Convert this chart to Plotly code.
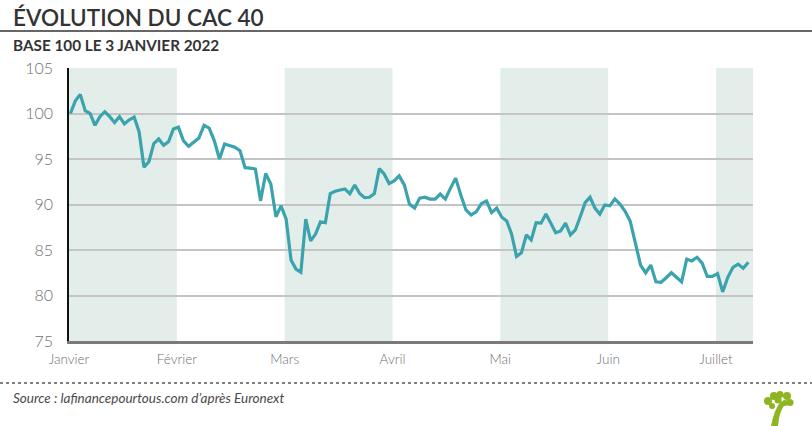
import plotly.graph_objects as go

# ---------------- data ----------------
month_labels = ["Janvier", "Février", "Mars", "Avril", "Mai", "Juin", "Juillet"]
y_ticks = [75, 80, 85, 90, 95, 100, 105]

jan_values = [100.0, 101.4, 102.1, 100.3, 100.0, 98.7, 99.65, 100.2, 99.65, 99.0, 99.65,
              98.85, 99.3, 99.6, 98.0, 94.1, 94.7, 96.7, 97.2, 96.5, 96.9, 98.3]
feb_values = [98.5, 97.0, 96.4, 96.9, 97.3, 98.7, 98.4, 97.0, 95.0, 96.65, 96.5,
              96.3, 95.9, 94.05, 94.0, 93.9, 90.4, 93.4, 92.25, 88.65, 89.85]
mar_values = [88.4, 83.9, 82.9, 82.55, 88.4, 86.0, 86.75, 88.1, 88.0, 91.2, 91.45,
              91.6, 91.7, 91.2, 92.15, 91.2, 90.75, 90.8, 91.2, 93.95, 93.35, 92.3]
apr_values = [92.6, 93.15, 92.15, 90.05, 89.6, 90.7, 90.8, 90.6, 90.6, 91.15, 90.6,
              91.8, 92.9, 91.05, 89.4, 88.85, 89.2, 90.1, 90.4, 89.1, 89.6]
may_values = [88.6, 88.2, 86.75, 84.3, 84.7, 86.65, 86.1, 88.0, 87.95, 88.95, 87.95,
              86.9, 87.1, 87.95, 86.65, 87.2, 88.65, 90.2, 90.8, 89.6, 88.95, 89.95]
jun_values = [89.85, 90.6, 90.05, 89.25, 88.15, 85.75, 83.35, 82.5, 83.35, 81.5, 81.45,
              81.95, 82.5, 82.0, 81.5, 84.0, 83.8, 84.2, 83.55, 82.1, 82.1]
jul_values = [82.4, 80.4, 82.0, 83.1, 83.45, 83.0, 83.65]

months_data = [jan_values, feb_values, mar_values, apr_values, may_values, jun_values, jul_values]
slots_per_month = [22, 21, 22, 21, 22, 21, 21]   # trading-day slots in each month
x_end = 6.343

# x position = month index + fraction of month
xs, ys = [], []
for m, vals in enumerate(months_data):
    n = slots_per_month[m]
    for i, v in enumerate(vals):
        xs.append(m + (i + 0.3) / n)
        ys.append(v)

# ---------------- layout helpers ----------------
W, H = 812, 426
L, R, T, B = 69, 753, 68, 341
pw, ph = R - L, B - T


def px(x):
    return (x - L) / pw


def py(y):
    return (B - y) / ph


shade = "#e3eeea"
line_col = "#3aa3ad"
text_dark = "#333333"
text_grey = "#707070"

fig = go.Figure()
fig.add_trace(go.Scatter(
    x=xs, y=ys, mode="lines",
    line=dict(color=line_col, width=3.2, shape="linear"),
    hoverinfo="skip", showlegend=False,
))

shapes = []
for m in range(0, 7, 2):
    shapes.append(dict(type="rect", xref="x", yref="paper", x0=m, x1=min(m + 1, x_end),
                       y0=0, y1=1, fillcolor=shade, line=dict(width=0), layer="below"))

# rule under title
shapes.append(dict(type="line", xref="paper", yref="paper", x0=px(0), x1=px(W),
                   y0=py(31), y1=py(31), line=dict(color="#333333", width=1.3)))
# dotted separator
shapes.append(dict(type="line", xref="paper", yref="paper", x0=px(0), x1=px(W),
                   y0=py(383), y1=py(383), line=dict(color="#555555", width=1.4, dash="dot")))

# small tree logo
green = "#8db521"
trunk = (f"M {px(771)} {py(426)} L {px(778)} {py(426)} Q {px(779)} {py(412)} {px(785)} {py(404)} "
         f"L {px(781)} {py(401)} Q {px(774)} {py(410)} {px(771)} {py(426)} Z")
shapes.append(dict(type="path", xref="paper", yref="paper", path=trunk,
                   fillcolor=green, line=dict(width=0)))
for (cx, cy, r) in [(768, 401, 4), (774, 396, 4), (780, 394.5, 3.5), (787, 396, 4),
                    (790, 402.5, 3.5), (772, 406, 3), (785, 403, 3), (778, 400, 3.5)]:
    shapes.append(dict(type="circle", xref="paper", yref="paper",
                       x0=px(cx - r), x1=px(cx + r), y0=py(cy + r), y1=py(cy - r),
                       fillcolor=green, line=dict(width=0)))

annotations = [
    dict(text="ÉVOLUTION DU CAC 40", xref="paper", yref="paper", x=px(11), y=py(17),
         xanchor="left", yanchor="middle", showarrow=False,
         font=dict(family="Lato", size=22.5, color=text_dark, weight=600)),
    dict(text="BASE 100 LE 3 JANVIER 2022", xref="paper", yref="paper", x=px(11), y=py(45),
         xanchor="left", yanchor="middle", showarrow=False,
         font=dict(family="Lato", size=15.3, color=text_dark, weight=700)),
    dict(text="<i>Source : lafinancepourtous.com d’après Euronext</i>", xref="paper", yref="paper",
         x=px(11), y=py(398), xanchor="left", yanchor="middle", showarrow=False,
         font=dict(family="Lato", size=13.5, color="#4a4a4a", weight=400)),
]

fig.update_layout(
    width=W, height=H,
    margin=dict(l=L, r=W - R, t=T, b=H - B, pad=0),
    paper_bgcolor="white", plot_bgcolor="rgba(0,0,0,0)",
    shapes=shapes, annotations=annotations,
    showlegend=False,
    xaxis=dict(range=[0, x_end], tickmode="array", tickvals=list(range(7)), ticktext=month_labels,
               showgrid=False, zeroline=False, showline=True, linecolor="#7a7a7a", linewidth=2.5,
               ticks="", tickfont=dict(family="Lato", size=13.5, color=text_grey, weight=300),
               ticklabelstandoff=4),
    yaxis=dict(range=[75, 105], tickmode="array", tickvals=y_ticks,
               showgrid=True, gridcolor="#c4c4c4", gridwidth=1.5, zeroline=False,
               showline=True, linecolor="#111111", linewidth=1.5, ticks="",
               tickfont=dict(family="Lato", size=16, color=text_grey, weight=300),
               ticklabelstandoff=11),
)

fig.write_html("out.html")
